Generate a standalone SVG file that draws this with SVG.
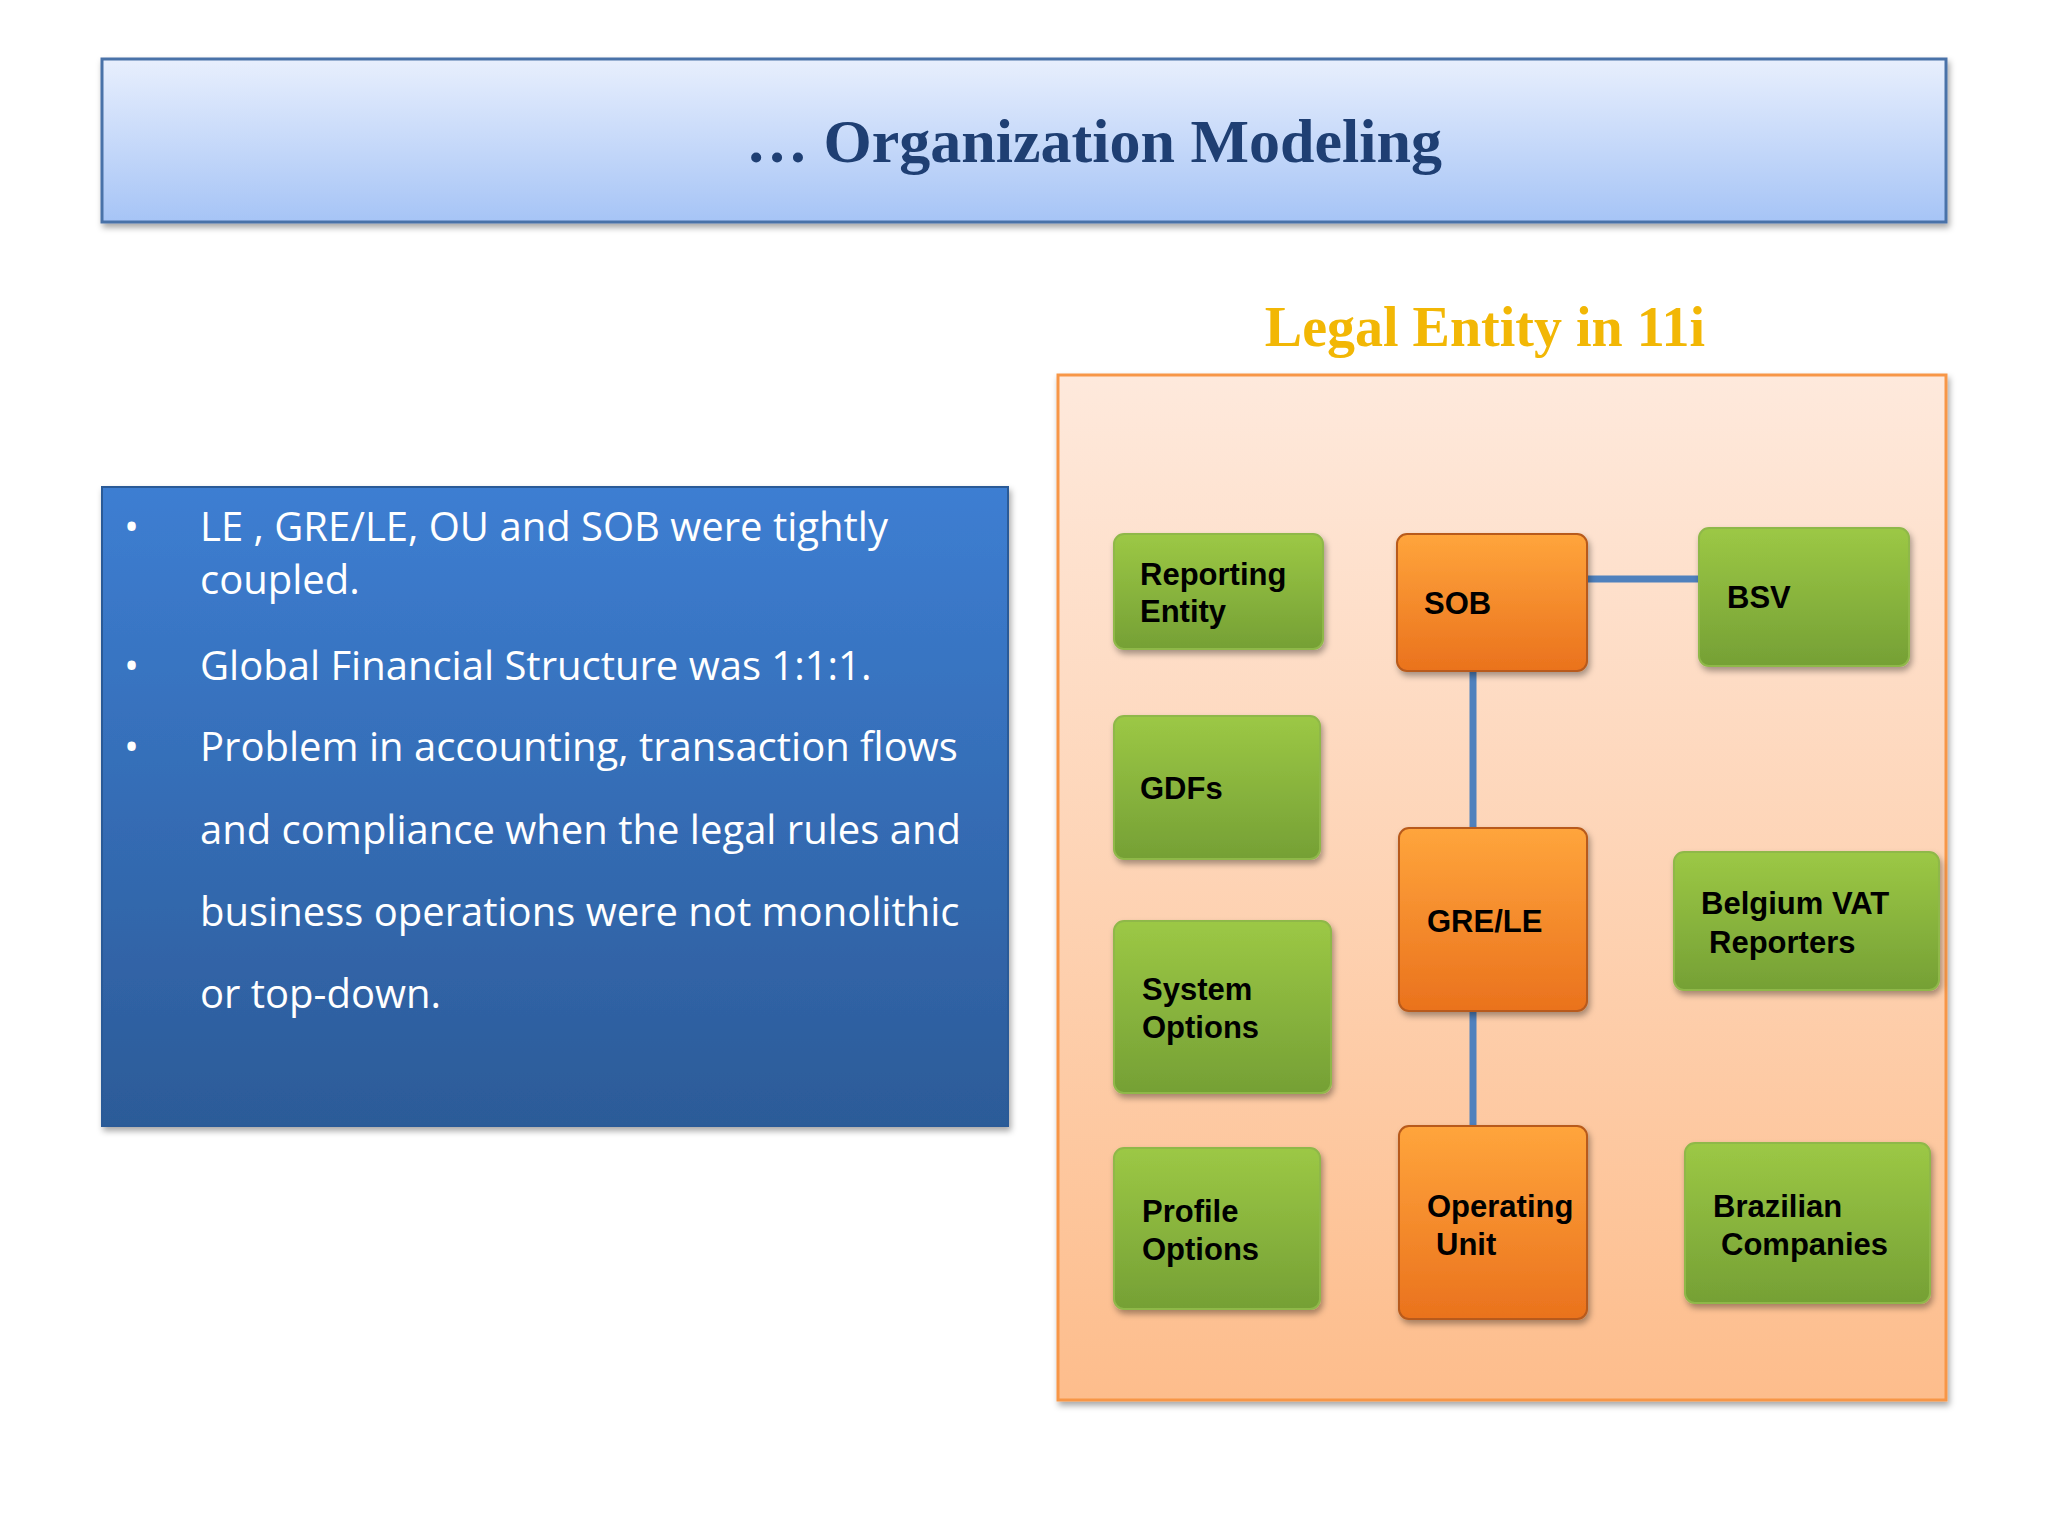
<svg xmlns="http://www.w3.org/2000/svg" width="2048" height="1536" viewBox="0 0 2048 1536">
<defs>
<linearGradient id="gT" x1="0" y1="0" x2="0" y2="1"><stop offset="0" stop-color="#e8effd"/><stop offset="1" stop-color="#a6c4f6"/></linearGradient>
<linearGradient id="gB" x1="0" y1="0" x2="0" y2="1"><stop offset="0" stop-color="#3d7ed2"/><stop offset="1" stop-color="#2c5b98"/></linearGradient>
<linearGradient id="gP" x1="0" y1="0" x2="0" y2="1"><stop offset="0" stop-color="#fee9dc"/><stop offset="1" stop-color="#fdbd8c"/></linearGradient>
<linearGradient id="gG" x1="0" y1="0" x2="0" y2="1"><stop offset="0" stop-color="#9cc845"/><stop offset="1" stop-color="#75a035"/></linearGradient>
<linearGradient id="gO" x1="0" y1="0" x2="0" y2="1"><stop offset="0" stop-color="#ffa53c"/><stop offset="1" stop-color="#ea721d"/></linearGradient>
<filter id="sh" x="-10%" y="-10%" width="130%" height="130%"><feDropShadow dx="2" dy="4" stdDeviation="3" flood-opacity="0.35"/></filter>
</defs>
<style>
.g{fill:url(#gG);stroke:#8fb84a;stroke-width:2;filter:url(#sh)}
.o{fill:url(#gO);stroke:#b85a1a;stroke-width:2;filter:url(#sh)}
.t{font-family:"Liberation Sans",Arial,sans-serif;font-weight:bold;font-size:31px;fill:#000}
.b{font-family:"Open Sans","Noto Sans",sans-serif;font-size:40px;fill:#fff}
.c{stroke:#4f81bd;stroke-width:7;fill:none}
</style>
<rect width="2048" height="1536" fill="#fff"/>
<rect x="102" y="59" width="1844" height="163" fill="url(#gT)" stroke="#4a72a8" stroke-width="3" filter="url(#sh)"/>
<text x="1094" y="162" text-anchor="middle" font-family="Liberation Serif,serif" font-weight="bold" font-size="62" fill="#1f3f73">… Organization Modeling</text>
<rect x="102" y="487" width="906" height="639" fill="url(#gB)" stroke="#2b5a97" stroke-width="2" filter="url(#sh)"/>
<g class="b">
<text x="124" y="541">•</text><text x="200" y="541">LE , GRE/LE, OU and SOB were tightly</text>
<text x="200" y="594">coupled.</text>
<text x="124" y="680">•</text><text x="200" y="680">Global Financial Structure  was 1:1:1.</text>
<text x="124" y="761">•</text><text x="200" y="761">Problem  in accounting, transaction flows</text>
<text x="200" y="844">and compliance when the legal rules and</text>
<text x="200" y="926">business operations were not monolithic</text>
<text x="200" y="1008">or top-down.</text>
</g>
<text x="1485" y="346" text-anchor="middle" font-family="Liberation Serif,serif" font-weight="bold" font-size="56" fill="#f2b705">Legal Entity in 11i</text>
<rect x="1058" y="375" width="888" height="1025" fill="url(#gP)" stroke="#f79646" stroke-width="3" filter="url(#sh)"/>
<g id="connectors">
<line class="c" x1="1587" y1="579" x2="1699" y2="579"/>
<line class="c" x1="1473" y1="671" x2="1473" y2="828"/>
<line class="c" x1="1473" y1="1011" x2="1473" y2="1126"/>
</g>
<g id="reporting"><rect class="g" x="1114" y="534" width="209" height="115" rx="10"/><text class="t" x="1140" y="585">Reporting</text><text class="t" x="1140" y="622">Entity</text></g>
<g id="gdfs"><rect class="g" x="1114" y="716" width="206" height="143" rx="10"/><text class="t" x="1140" y="799">GDFs</text></g>
<g id="system"><rect class="g" x="1114" y="921" width="217" height="172" rx="10"/><text class="t" x="1142" y="1000">System</text><text class="t" x="1142" y="1038">Options</text></g>
<g id="profile"><rect class="g" x="1114" y="1148" width="206" height="161" rx="10"/><text class="t" x="1142" y="1222">Profile</text><text class="t" x="1142" y="1260">Options</text></g>
<g id="sob"><rect class="o" x="1397" y="534" width="190" height="137" rx="10"/><text class="t" x="1424" y="614">SOB</text></g>
<g id="grele"><rect class="o" x="1399" y="828" width="188" height="183" rx="10"/><text class="t" x="1427" y="932">GRE/LE</text></g>
<g id="ou"><rect class="o" x="1399" y="1126" width="188" height="193" rx="10"/><text class="t" x="1427" y="1217">Operating</text><text class="t" x="1436" y="1255">Unit</text></g>
<g id="bsv"><rect class="g" x="1699" y="528" width="210" height="138" rx="10"/><text class="t" x="1727" y="608">BSV</text></g>
<g id="belgium"><rect class="g" x="1674" y="852" width="265" height="138" rx="10"/><text class="t" x="1701" y="914">Belgium VAT</text><text class="t" x="1709" y="953">Reporters</text></g>
<g id="brazil"><rect class="g" x="1685" y="1143" width="245" height="160" rx="10"/><text class="t" x="1713" y="1217">Brazilian</text><text class="t" x="1721" y="1255">Companies</text></g>
</svg>
